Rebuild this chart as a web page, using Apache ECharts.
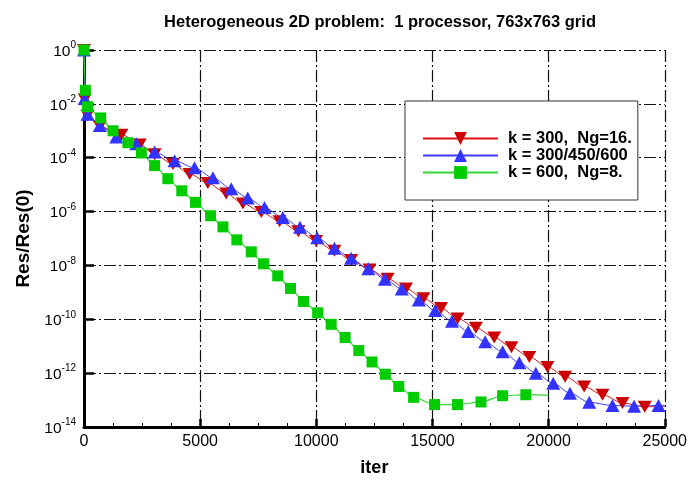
<!DOCTYPE html>
<html>
<head>
<meta charset="utf-8">
<script src="https://cdn.jsdelivr.net/npm/echarts@6/dist/echarts.min.js"></script>
<style>
  html, body { margin: 0; padding: 0; background: #fff; }
  #chart { width: 690px; height: 482px; }
</style>
</head>
<body>
<div id="chart"></div>
<script>
// k = 300, Ng=16.
var iterK300 = [0, 30, 150, 680, 1610, 2400, 3040, 3830, 4550, 5330, 6120, 6840, 7630, 8420, 9230, 9990, 10780, 11500, 12290, 13070, 13860, 14610, 15370, 16080, 16870, 17660, 18400, 19170, 19950, 20710, 21530, 22320, 23180, 24140, 25000];
var resK300 = [1, 1.45e-2, 3.7e-3, 1.45e-3, 7.2e-4, 3.1e-4, 1.34e-4, 5.8e-5, 2.5e-5, 1.15e-5, 4.7e-6, 2.0e-6, 9.6e-7, 4.4e-7, 1.87e-7, 8.1e-8, 3.5e-8, 1.6e-8, 7.0e-9, 3.2e-9, 1.4e-9, 6.1e-10, 2.6e-10, 1.07e-10, 4.9e-11, 2.1e-11, 9.2e-12, 4.0e-12, 1.7e-12, 7.4e-13, 3.2e-13, 1.58e-13, 7.8e-14, 5.6e-14, 6.0e-14];

// k = 300/450/600
var iterK3456 = [0, 30, 150, 680, 1390, 2250, 3040, 3900, 4760, 5550, 6340, 7050, 7770, 8560, 9300, 10040, 10780, 11500, 12240, 12950, 13680, 14410, 15120, 15840, 16540, 17270, 18020, 18740, 19450, 20200, 20920, 21750, 22750, 23680, 24730, 25000];
var resK3456 = [1, 1.58e-2, 4.1e-3, 1.58e-3, 5.9e-4, 3.3e-4, 1.62e-4, 7.7e-5, 4.2e-5, 1.8e-5, 7.1e-6, 3.2e-6, 1.41e-6, 6.0e-7, 2.6e-7, 1.07e-7, 4.3e-8, 1.83e-8, 7.5e-9, 3.1e-9, 1.33e-9, 5.2e-10, 2.1e-10, 8.5e-11, 3.5e-11, 1.47e-11, 6.2e-12, 2.45e-12, 1.0e-12, 4.2e-13, 1.8e-13, 8.3e-14, 6.3e-14, 5.9e-14, 6.3e-14, 6.1e-14];

// k = 600, Ng=8.
var iterK600 = [0, 60, 150, 720, 1250, 1890, 2470, 3040, 3610, 4210, 4800, 5450, 5980, 6580, 7200, 7730, 8340, 8890, 9450, 10060, 10640, 11240, 11830, 12400, 12970, 13550, 14190, 15090, 16080, 17090, 18020, 19020, 20000];
var resK600 = [1, 3.2e-2, 7.8e-3, 3.0e-3, 1.0e-3, 3.6e-4, 1.5e-4, 5.1e-5, 1.66e-5, 5.9e-6, 2.2e-6, 7.0e-7, 2.7e-7, 8.9e-8, 3.2e-8, 1.15e-8, 4.1e-9, 1.4e-9, 4.6e-10, 1.74e-10, 6.5e-11, 2.1e-11, 6.9e-12, 2.6e-12, 9.1e-13, 3.2e-13, 1.26e-13, 6.8e-14, 6.8e-14, 8.5e-14, 1.45e-13, 1.58e-13, 1.5e-13];

var seriesNames = ["k = 300,  Ng=16.", "k = 300/450/600", "k = 600,  Ng=8."];

var font = "Liberation Sans, Arial, Helvetica, sans-serif";

// pair up iter/res, last point of each curve has no marker
function pairs(xs, ys) {
  var out = [];
  for (var i = 0; i < xs.length; i++) {
    var item = { value: [xs[i], ys[i]] };
    if (i === xs.length - 1) item.symbol = "none";
    out.push(item);
  }
  return out;
}

var gridLine = { color: "#111", width: 1.2, type: [12, 3, 2, 3] };

var myChart = echarts.init(document.getElementById("chart"));

var option = {
  backgroundColor: "#fff",
  animation: false,
  title: {
    text: "Heterogeneous 2D problem:  1 processor, 763x763 grid",
    left: 375,
    top: 9,
    textAlign: "center",
    textStyle: { fontFamily: font, fontSize: 16.5, fontWeight: "bold", color: "#000" }
  },
  grid: { left: 84, right: 24, top: 50, bottom: 48 },
  legend: {
    orient: "vertical",
    left: 405,
    top: 101,
    backgroundColor: "#fff",
    borderColor: "#333",
    borderWidth: 1,
    padding: [29, 6, 19, 17],
    itemWidth: 75,
    itemHeight: 16,
    itemGap: 0,
    textStyle: { fontFamily: font, fontSize: 16.5, fontWeight: "bold", color: "#000", padding: [0, 0, 0, 5] },
    data: seriesNames
  },
  xAxis: {
    type: "value",
    min: 0,
    max: 25000,
    interval: 5000,
    name: "iter",
    nameLocation: "middle",
    nameGap: 32,
    nameTextStyle: { fontFamily: font, fontSize: 18, fontWeight: "bold", color: "#000" },
    axisLine: { lineStyle: { color: "#000", width: 3 } },
    axisTick: { inside: true, length: 8, lineStyle: { color: "#000", width: 2.5 } },
    minorTick: { show: true, splitNumber: 4, length: 4, lineStyle: { color: "#000", width: 1 } },
    axisLabel: {
      fontFamily: font, fontSize: 16, color: "#000", margin: 7,
      formatter: function (v) { return String(v); }
    },
    splitLine: { show: true, lineStyle: gridLine }
  },
  yAxis: {
    type: "log",
    logBase: 10,
    min: 1e-14,
    max: 1,
    interval: 2,
    name: "Res/Res(0)",
    nameLocation: "middle",
    nameGap: 48,
    nameTextStyle: { fontFamily: font, fontSize: 19, fontWeight: "bold", color: "#000" },
    axisLine: { show: true, lineStyle: { color: "#000", width: 3 } },
    axisTick: { show: true, inside: true, length: 10, lineStyle: { color: "#000", width: 2.5 } },
    axisLabel: {
      margin: 8,
      formatter: function (v) {
        var e = Math.round(Math.log(v) / Math.LN10);
        return "{b|10}{e|" + e + "}";
      },
      rich: {
        b: { fontFamily: font, fontSize: 15.5, color: "#000", verticalAlign: "bottom", lineHeight: 19 },
        e: { fontFamily: font, fontSize: 10, color: "#000", verticalAlign: "top", lineHeight: 10 }
      }
    },
    splitLine: { show: true, lineStyle: gridLine }
  },
  series: [
    {
      name: seriesNames[0],
      type: "line",
      data: pairs(iterK300, resK300),
      smooth: 0.3,
      smoothMonotone: "x",
      symbol: "triangle",
      symbolRotate: 180,
      symbolSize: [14, 12],
      lineStyle: { color: "#e01010", width: 1 },
      itemStyle: { color: "#cc0000" }
    },
    {
      name: seriesNames[1],
      type: "line",
      data: pairs(iterK3456, resK3456),
      smooth: 0.3,
      smoothMonotone: "x",
      symbol: "triangle",
      symbolSize: [14, 13],
      lineStyle: { color: "#3b3bff", width: 1 },
      itemStyle: { color: "#3333ff" }
    },
    {
      name: seriesNames[2],
      type: "line",
      data: pairs(iterK600, resK600),
      smooth: 0.3,
      smoothMonotone: "x",
      symbol: "rect",
      symbolSize: 11,
      lineStyle: { color: "#33d633", width: 1.2 },
      itemStyle: { color: "#00cc00" }
    }
  ]
};

myChart.setOption(option);
</script>
</body>
</html>
